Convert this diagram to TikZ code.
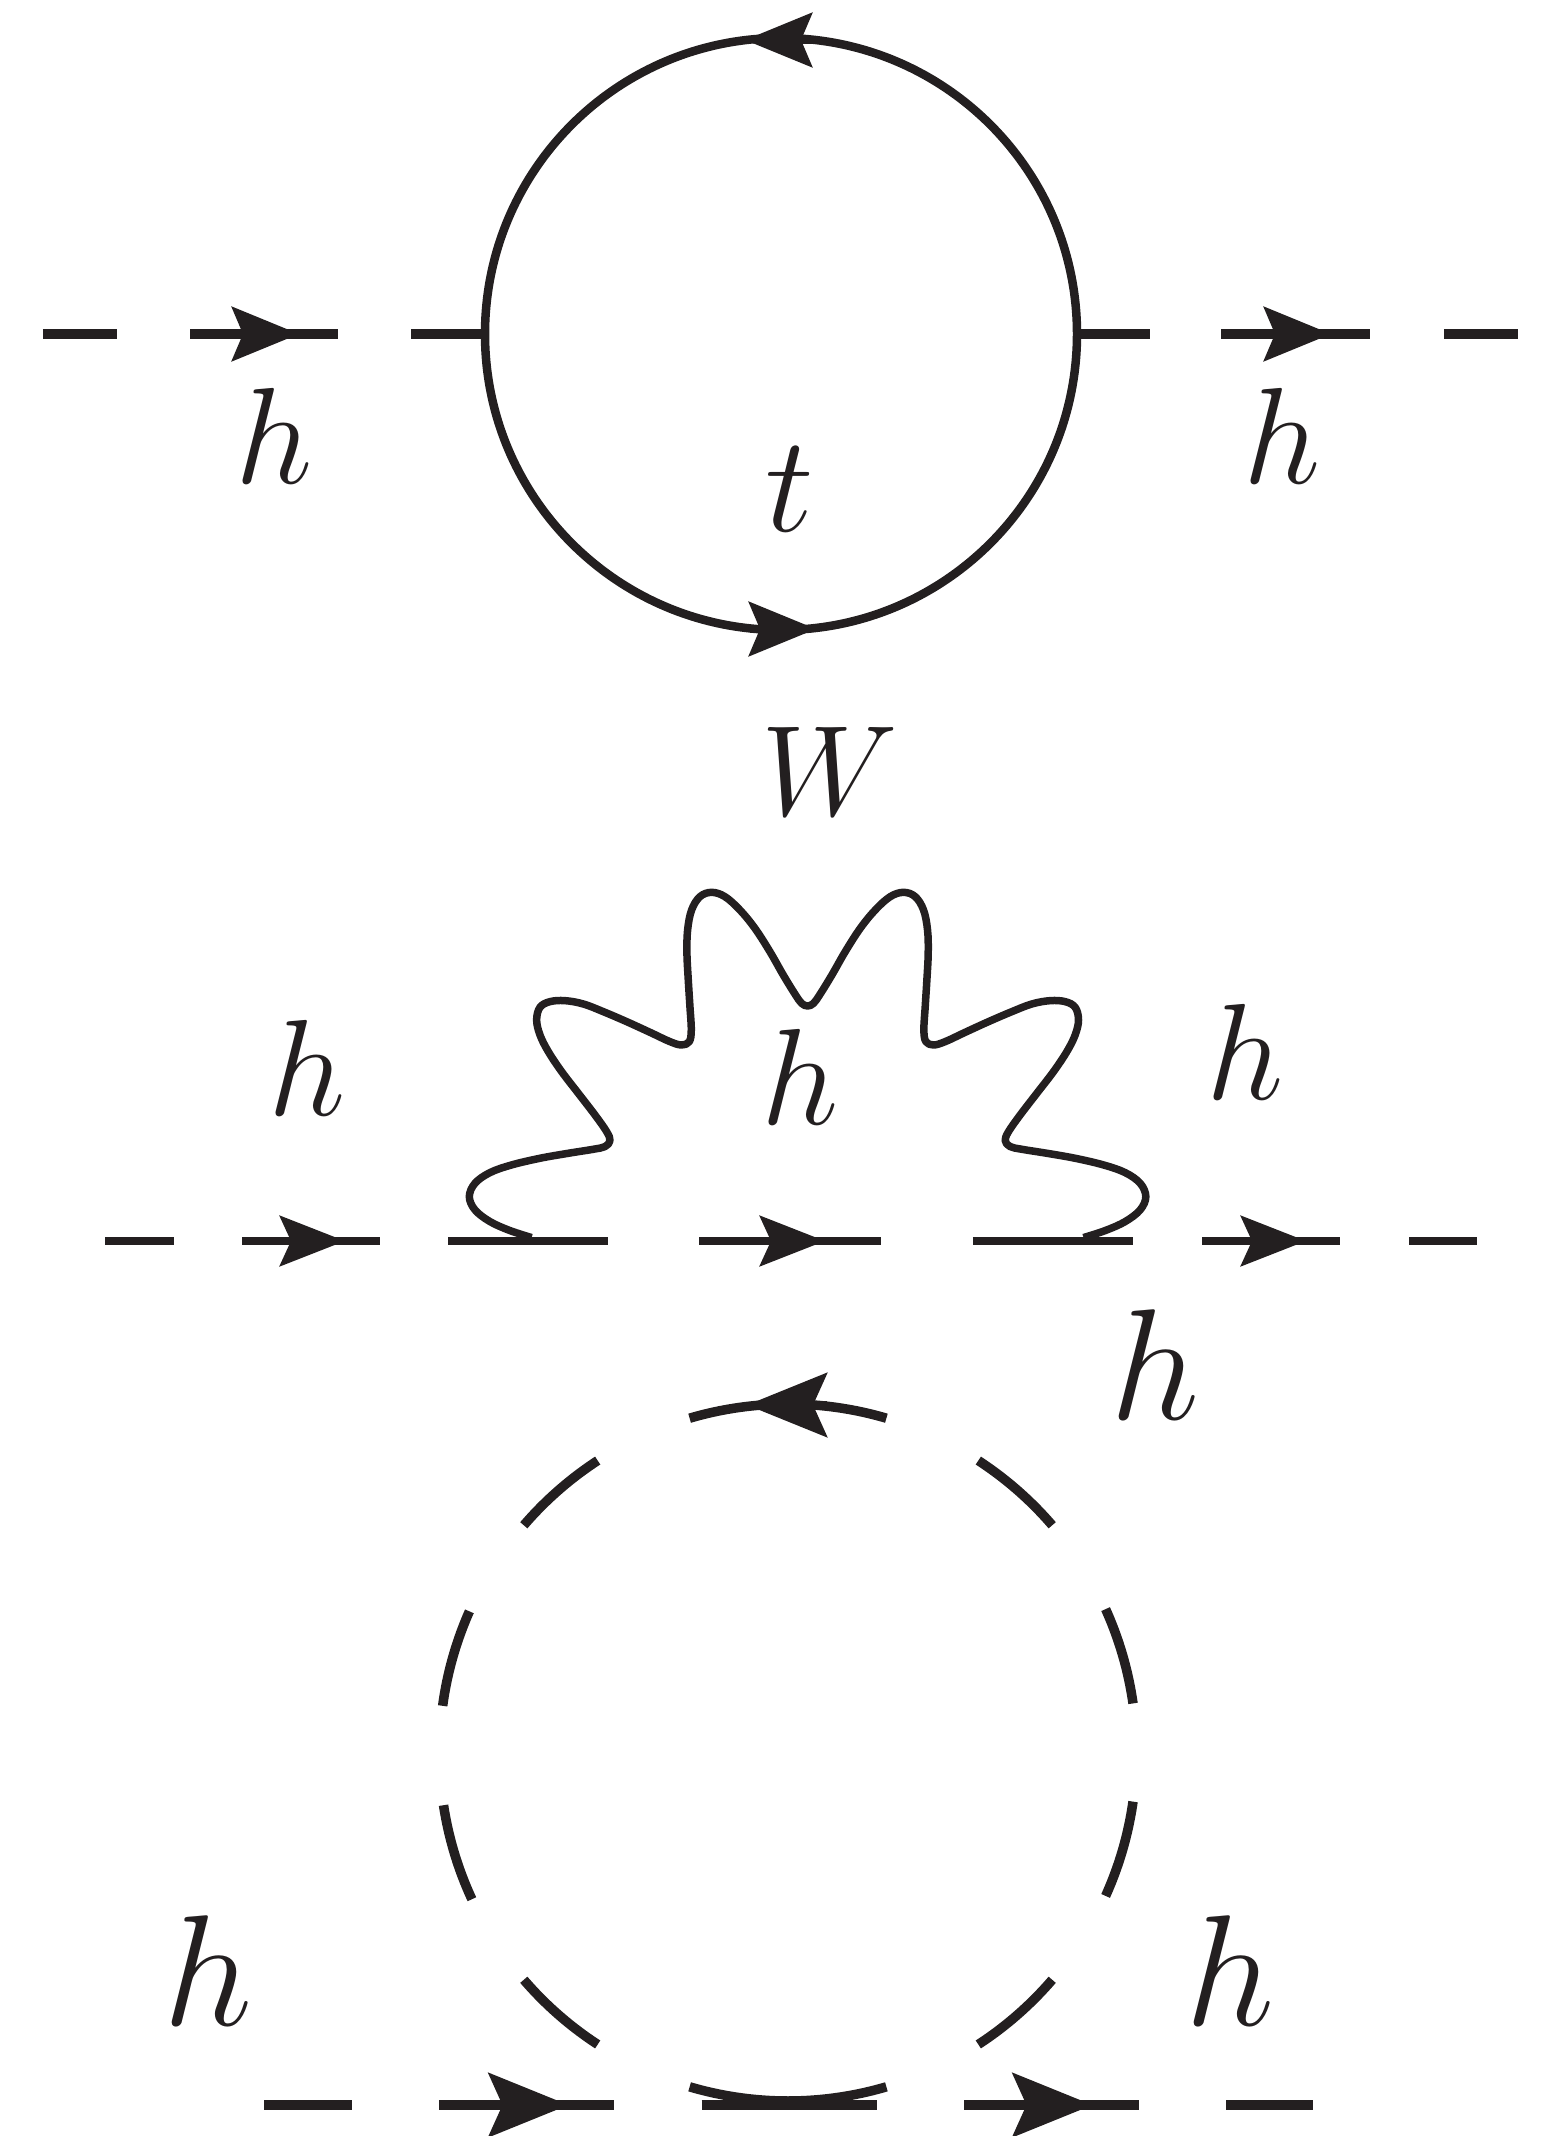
\documentclass[tikz,border=0pt]{standalone}
\usepackage{amsmath,amssymb}
\usepackage{tikz}
\usetikzlibrary{arrows.meta, positioning, calc}
\usepackage{xcolor}
\definecolor{inkblack}{RGB}{35,31,32}
\tikzset{
  scalar/.style={inkblack, line width=#1},
  scalar/.default=0.95mm,
  dashlen/.style={dash pattern=on #1 off #1},
  looptop/.style={inkblack, line width=0.85mm},
  boson/.style={inkblack, line width=0.75mm, line join=round},
  tip/.style args={#1/#2/#3}{inkblack, line width=0.85mm, -{Stealth[length=#1, width=#2, inset=#3]}},
  lab/.style={inkblack, inner sep=0pt, font=\fontsize{12}{14}\selectfont, scale=3.25},
  labbig/.style={inkblack, inner sep=0pt, font=\fontsize{12}{14}\selectfont, scale=3.75},
}

\begin{document}
\begin{tikzpicture}
  \useasboundingbox (0,0) rectangle (15.46,-21.36);
  % top loop
  \coordinate (a1) at (0.43,-3.34);
  \coordinate (m1) at (2.64,-3.34);
  \coordinate (s1) at (2.32,-3.34);
  \coordinate (t1) at (2.99,-3.34);
  \coordinate (v1) at (4.83,-3.34);
  \coordinate (v2) at (10.79,-3.34);
  \coordinate (m2) at (12.96,-3.34);
  \coordinate (s2) at (12.64,-3.34);
  \coordinate (t2) at (13.31,-3.34);
  \coordinate (a2) at (15.18,-3.34);
  \coordinate (c1) at (7.81,-3.34);
  \draw[scalar, dashlen=7.37mm] (a1) -- (m1);
  \draw[scalar, dashlen=7.37mm] (m1) -- (v1);
  \draw[scalar, dashlen=7.1mm] (v2) -- (m2);
  \draw[scalar, dashlen=7.4mm] (m2) -- (a2);
  \draw[looptop] (c1) circle (2.96);
  \coordinate (b1) at (8.12,-0.40);
  \coordinate (b2) at (7.45,-0.40);
  \coordinate (b3) at (7.50,-6.29);
  \coordinate (b4) at (8.16,-6.29);
  \foreach \s/\e in {s1/t1, s2/t2, b1/b2, b3/b4} {
    \draw[tip={6.7mm/5.4mm/1.1mm}] (\s) -- (\e);
  }
  \node[lab] (h1) at (2.74,-4.36) {$h$};
  \node[lab] (h2) at (12.82,-4.36) {$h$};
  \node[lab] (top) at (7.90,-4.89) {$t$};
  % wavy one
  \coordinate (d1) at (1.05,-12.41);
  \coordinate (d2) at (3.11,-12.41);
  \coordinate (d3) at (5.17,-12.41);
  \coordinate (d4) at (7.90,-12.41);
  \coordinate (d5) at (10.64,-12.41);
  \coordinate (d6) at (12.71,-12.41);
  \coordinate (d7) at (14.77,-12.41);
  \foreach \s/\e/\l in {d1/d2/6.87mm, d2/d3/6.87mm, d3/d4/9.1mm, d4/d5/9.14mm, d5/d6/6.9mm, d6/d7/6.9mm} {
    \draw[scalar=0.87mm, dashlen=\l] (\s) -- (\e);
  }
  \coordinate (f1) at (2.80,-12.41);
  \coordinate (f2) at (3.45,-12.41);
  \coordinate (f3) at (7.61,-12.41);
  \coordinate (f4) at (8.25,-12.41);
  \coordinate (f5) at (12.41,-12.41);
  \coordinate (f6) at (13.06,-12.41);
  \foreach \s/\e in {f1/f2, f3/f4, f5/f6} {
    \draw[tip={6.5mm/5.0mm/1.1mm}] (\s) -- (\e);
  }
  \begin{scope}[shift={(4.40,-8.70)}, x=0.03333mm, y=-0.03333mm]
    \draw[boson] plot[smooth, tension=0.6] coordinates {
      (275,1103) (210,1082) (150,1055) (105,1020) (88,980) (105,940) (150,908) (215,885) (300,865) (385,850)
      (460,838) (495,830) (510,812) (500,785) (465,735) (415,670) (365,605) (325,545) (300,495) (290,450)
      (300,412) (330,395) (375,392) (430,402) (490,425) (560,455) (630,487) (690,515) (725,525) (748,515)
      (754,480) (750,410) (745,330) (741,250) (743,180) (755,120) (780,80) (815,67) (855,80) (900,120)
      (945,175) (990,245) (1030,315) (1065,372) (1085,400) (1103,408)
      (1121,400) (1141,372) (1176,315) (1216,245) (1261,175) (1306,120) (1351,80) (1391,67) (1426,80) (1451,120)
      (1463,180) (1465,250) (1461,330) (1456,410) (1452,480) (1458,515) (1481,525) (1516,515) (1576,487) (1646,455)
      (1716,425) (1776,402) (1831,392) (1876,395) (1906,412) (1916,450) (1906,495) (1881,545) (1841,605) (1791,670)
      (1741,735) (1706,785) (1696,812) (1711,830) (1746,838) (1821,850) (1906,865) (1991,885) (2056,908) (2101,940)
      (2118,980) (2101,1020) (2056,1055) (1996,1082) (1931,1103)};
  \end{scope}
  \node[lab, scale=0.94] (wb) at (8.295,-7.71) {$W$};
  \node[lab] (h3) at (3.07,-10.68) {$h$};
  \node[lab] (h4) at (8.00,-10.77) {$h$};
  \node[lab] (h5) at (12.45,-10.52) {$h$};
  % dashed loop
  \coordinate (c3) at (7.88,-17.525);
  \foreach \a/\b in {73.6/106.4, 123.1/139.3, 156.1/172.3, 188.7/204.9, 220.7/236.9, 253.6/286.4, 303.1/319.3, 335.7/351.9, 8.1/24.3, 40.7/56.9} {
    \draw[looptop, line width=0.95mm] (c3) ++(\a:3.485) arc[start angle=\a, end angle=\b, radius=3.485];
  }
  \coordinate (g1) at (2.64,-21.05);
  \coordinate (g2) at (5.265,-21.05);
  \coordinate (g3) at (7.89,-21.05);
  \coordinate (g4) at (10.51,-21.05);
  \coordinate (g5) at (13.13,-21.05);
  \foreach \s/\e in {g1/g2, g2/g3, g3/g4, g4/g5} {
    \draw[scalar=1.05mm, dashlen=8.75mm] (\s) -- (\e);
  }
  \coordinate (k1) at (4.88,-21.05);
  \coordinate (k2) at (5.685,-21.05);
  \coordinate (k3) at (10.115,-21.05);
  \coordinate (k4) at (10.925,-21.05);
  \coordinate (k5) at (8.27,-14.05);
  \coordinate (k6) at (7.47,-14.05);
  \foreach \s/\e in {k1/k2, k3/k4, k5/k6} {
    \draw[tip={8.0mm/6.4mm/1.4mm}] (\s) -- (\e);
  }
  \node[labbig] (h6) at (11.55,-13.65) {$h$};
  \node[labbig] (h7) at (2.08,-19.71) {$h$};
  \node[labbig] (h8) at (12.30,-19.71) {$h$};
\end{tikzpicture}
\end{document}
